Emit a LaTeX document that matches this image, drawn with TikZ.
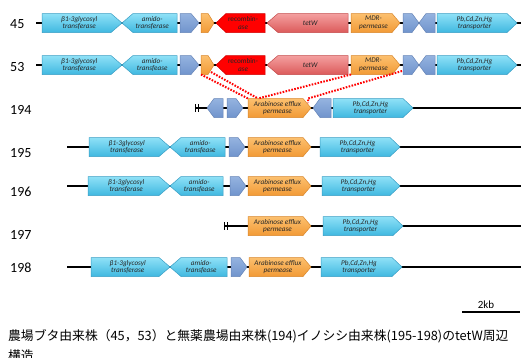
\documentclass[tikz,border=0pt]{standalone}
\usepackage{fontspec}
\setmainfont{Carlito}
\newfontfamily\cjk{Noto Sans CJK JP}
\definecolor{cyanT}{HTML}{8FE1F7}
\definecolor{cyanB}{HTML}{3FB8E0}
\definecolor{cyanD}{HTML}{3A9EC4}
\definecolor{blueT}{HTML}{95B3E0}
\definecolor{blueB}{HTML}{7094CC}
\definecolor{blueD}{HTML}{6685B8}
\definecolor{orT}{HTML}{FCC06E}
\definecolor{orB}{HTML}{F29A36}
\definecolor{orD}{HTML}{D9862A}
\definecolor{pkT}{HTML}{F4A0A0}
\definecolor{pkB}{HTML}{DC5A5A}
\definecolor{pkD}{HTML}{C44A4A}
\definecolor{rdF}{HTML}{FF0000}
\definecolor{rdD}{HTML}{D00000}
\newcommand\gR[7]{%
  \draw[#6] (#2,#4-9.5) -- (#3-#5,#4-9.5) -- (#3,#4) -- (#3-#5,#4+9.5) -- (#2,#4+9.5) -- cycle;
  \node[genetext] (#1) at ({(#2+#3-#5/2)/2},#4) {#7};}
\newcommand\gL[7]{%
  \draw[#6] (#2,#4) -- (#2+#5,#4-9.5) -- (#3,#4-9.5) -- (#3,#4+9.5) -- (#2+#5,#4+9.5) -- cycle;
  \node[genetext] (#1) at ({(#2+#5/2+#3)/2},#4) {#7};}
\begin{document}
\begin{tikzpicture}[x=1pt,y=-1pt,
  cyangene/.style={draw=cyanD,line width=0.5pt,top color=cyanT,bottom color=cyanB},
  bluegene/.style={draw=blueD,line width=0.5pt,top color=blueT,bottom color=blueB},
  orangegene/.style={draw=orD,line width=0.5pt,top color=orT,bottom color=orB},
  pinkgene/.style={draw=pkD,line width=0.5pt,top color=pkT,bottom color=pkB},
  redgene/.style={draw=rdD,line width=0.5pt,fill=rdF},
  genetext/.style={font=\fontsize{7.2}{7.8}\selectfont\itshape,text=black!85,align=center,inner sep=0pt},
  numlabel/.style={font=\fontsize{14}{16}\selectfont,anchor=west,inner sep=0pt},
  backbone/.style={line width=1.1pt,black},
  bar/.style={line width=1.1pt,black},
  dots/.style={red,line width=2pt,dash pattern=on 1.6pt off 1.4pt}]
\useasboundingbox (0,0) rectangle (521,357);
\fill[white] (0,0) rectangle (521,357);
% row labels
\node[numlabel] (l45) at (10,24) {45};
\node[numlabel] (l53) at (10,67) {53};
\node[numlabel] (l194) at (10,110) {194};
\node[numlabel] (l195) at (10,153) {195};
\node[numlabel] (l196) at (10,192) {196};
\node[numlabel] (l197) at (10,235) {197};
\node[numlabel] (l198) at (10,268) {198};
% backbones
\coordinate (s45) at (36,23); \coordinate (e45) at (521,23);
\coordinate (s53) at (36,65); \coordinate (e53) at (521,65);
\coordinate (s194) at (196,108); \coordinate (e194) at (521,108);
\coordinate (s195) at (67,147); \coordinate (e195) at (521,147);
\coordinate (s196) at (67,186); \coordinate (e196) at (521,186);
\coordinate (s197) at (225,226); \coordinate (e197) at (521,226);
\coordinate (s198) at (67,267); \coordinate (e198) at (521,267);
\foreach \r in {45,53,194,195,196,197,198} \draw[backbone] (s\r) -- (e\r);
\draw[bar] (195.5,104) -- (195.5,112); \draw[bar] (198.5,104) -- (198.5,112);
\draw[bar] (224.5,222) -- (224.5,230); \draw[bar] (227.5,222) -- (227.5,230);
% row 45
\gR{a1}{42}{122}{23}{11}{cyangene}{β1-3glycosyl\\transferase}
\gL{a2}{122}{177}{23}{11}{cyangene}{amido-\\transferase}
\gR{a3}{180}{199}{23}{8}{bluegene}{}
\gR{a4}{201}{214}{23}{6}{orangegene}{}
\gL{a5}{216}{265}{23}{10}{redgene}{\upshape recombin-\\ase}
\gL{a6}{267}{348}{23}{11}{pinkgene}{tetW}
\gR{a7}{351}{400}{23}{8}{orangegene}{MDR-\\permease}
\gR{a8}{403}{419}{23}{7}{bluegene}{}
\gL{a9}{419}{435}{23}{7}{bluegene}{}
\gR{a10}{437}{517}{23}{10}{cyangene}{Pb,Cd,Zn,Hg\\transporter}
% row 53
\gR{b1}{42}{122}{65}{11}{cyangene}{β1-3glycosyl\\transferase}
\gL{b2}{122}{177}{65}{11}{cyangene}{amido-\\transfease}
\gR{b3}{180}{199}{65}{8}{bluegene}{}
\gR{b4}{201}{214}{65}{6}{orangegene}{}
\gL{b5}{216}{265}{65}{10}{redgene}{\upshape recombin-\\ase}
\gL{b6}{267}{348}{65}{11}{pinkgene}{tetW}
\gR{b7}{351}{400}{65}{8}{orangegene}{MDR-\\permease}
\gR{b8}{403}{419}{65}{7}{bluegene}{}
\gL{b9}{419}{435}{65}{7}{bluegene}{}
\gR{b10}{437}{517}{65}{10}{cyangene}{Pb,Cd,Zn,Hg\\transporter}
% row 194
\gL{c1}{207}{223}{108}{7}{bluegene}{}
\gR{c2}{227}{243}{108}{7}{bluegene}{}
\gR{c3}{248}{311}{108}{8}{orangegene}{Arabinose efflux\\permease}
\gL{c4}{313}{331}{108}{7}{bluegene}{}
\gR{c5}{333}{413}{108}{10}{cyangene}{Pb,Cd,Zn,Hg\\transporter}
% row 195
\gR{d1}{89}{170}{147}{11}{cyangene}{β1-3glycosyl\\transferase}
\gL{d2}{170}{225}{147}{11}{cyangene}{amido-\\transfease}
\gR{d3}{229}{245}{147}{7}{bluegene}{}
\gR{d4}{248}{311}{147}{8}{orangegene}{Arabinose efflux\\permease}
\gR{d5}{320}{400}{147}{10}{cyangene}{Pb,Cd,Zn,Hg\\transporter}
% row 196
\gR{e1}{88}{170}{186}{11}{cyangene}{β1-3glycosyl\\transferase}
\gL{e2}{170}{223}{186}{11}{cyangene}{amido-\\transfease}
\gR{e3}{230}{246}{186}{7}{bluegene}{}
\gR{e4}{248}{311}{186}{8}{orangegene}{Arabinose efflux\\permease}
\gR{e5}{322}{400}{186}{10}{cyangene}{Pb,Cd,Zn,Hg\\transporter}
% row 197
\gR{f4}{248}{311}{226}{8}{orangegene}{Arabinose efflux\\permease}
\gR{f5}{323}{403}{226}{10}{cyangene}{Pb,Cd,Zn,Hg\\transporter}
% row 198
\gR{g1}{91}{170}{267}{11}{cyangene}{β1-3glycosyl\\transferase}
\gL{g2}{170}{227}{267}{11}{cyangene}{amido-\\transfease}
\gR{g3}{231}{247}{267}{7}{bluegene}{}
\gR{g4}{249}{311}{267}{8}{orangegene}{Arabinose efflux\\permease}
\gR{g5}{321}{402}{267}{10}{cyangene}{Pb,Cd,Zn,Hg\\transporter}
% dotted connectors
\coordinate (p1) at (201,74.5); \coordinate (q1) at (248,98.5);
\coordinate (p2) at (211,72); \coordinate (q2) at (258,98.5);
\coordinate (p3) at (351,74.5);
\coordinate (p4) at (402,71); \coordinate (q4) at (308,98.5); \coordinate (r4) at (308,103);
\draw[dots] (p1) -- (q1);
\draw[dots] (p2) -- (q2);
\draw[dots] (p3) -- (q2);
\draw[dots] (p4) -- (q4) -- (r4);
% scale bar
\coordinate (sb1) at (462,312); \coordinate (sb2) at (520,312);
\draw[line width=1.1pt] (sb1) -- (sb2);
\node[font=\fontsize{11}{12}\selectfont,inner sep=0pt] (kb) at (486,305) {2kb};
% caption
\node[font=\cjk\fontsize{12.8}{14}\selectfont,anchor=west,inner sep=0pt] (cap) at (8,336) {農場ブタ由来株（45，53）と無薬農場由来株(194)イノシシ由来株(195-198)のtetW周辺};
\node[font=\cjk\fontsize{12.8}{14}\selectfont,anchor=base west,inner sep=0pt] (cap2) at (8,360) {構造};
\end{tikzpicture}
\end{document}
